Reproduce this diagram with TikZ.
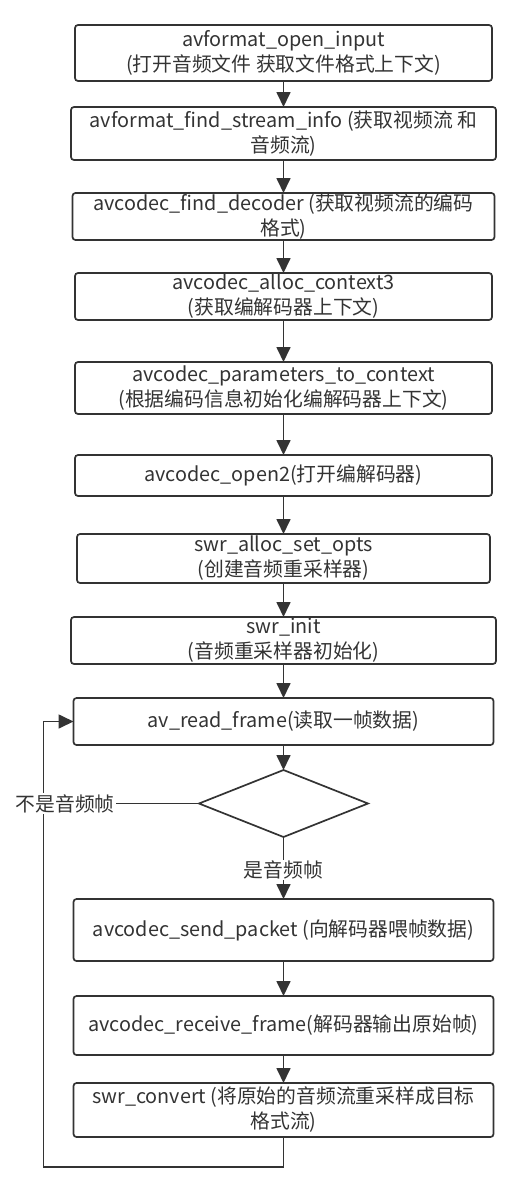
\documentclass[tikz,border=0pt]{standalone}
\usepackage{fontspec}
\setmainfont{Noto Sans CJK SC}
\usepackage{tikz}
\usetikzlibrary{shapes.geometric,positioning,arrows.meta,calc}
\definecolor{linegray}{HTML}{333333}

\begin{document}
\begin{tikzpicture}[
    font=\fontsize{19.8pt}{25pt}\selectfont,
    color=linegray,
    line width=1.7pt,
    funcbox/.style={draw, rounded corners=3pt, inner sep=0pt, outer sep=0pt, align=center},
    flow/.style={-{Triangle[length=15pt,width=14pt]}},
    edgelabel/.style={fill=white, inner sep=1pt}
]
\useasboundingbox (0,0) rectangle (520pt,-1191pt);

\node[funcbox,
    minimum width=417pt,
    minimum height=56pt
] (openinput) at (283.5pt,-53pt) {avformat\_open\_input\\(打开音频文件 获取文件格式上下文)};

\node[funcbox,
    below=26pt of openinput,
    minimum width=425pt,
    minimum height=53pt
] (findinfo) {avformat\_find\_stream\_info (获取视频流 和\\音频流)};

\node[funcbox,
    below=33pt of findinfo,
    minimum width=422pt,
    minimum height=47pt
] (finddecoder) {avcodec\_find\_decoder (获取视频流的编码\\格式)};

\node[funcbox,
    below=33pt of finddecoder,
    minimum width=417pt,
    minimum height=47pt
] (alloccontext) {avcodec\_alloc\_context3\\(获取编解码器上下文)};

\node[funcbox,
    below=42pt of alloccontext,
    minimum width=417pt,
    minimum height=52pt
] (paramstoctx) {avcodec\_parameters\_to\_context\\(根据编码信息初始化编解码器上下文)};

\node[funcbox,
    below=41pt of paramstoctx,
    minimum width=417pt,
    minimum height=41pt
] (opencodec) {avcodec\_open2(打开编解码器)};

\node[funcbox,
    below=38pt of opencodec,
    minimum width=413pt,
    minimum height=49pt
] (swralloc) {swr\_alloc\_set\_opts\\(创建音频重采样器)};

\node[funcbox,
    below=34pt of swralloc,
    minimum width=425pt,
    minimum height=47pt
] (swrinit) {swr\_init\\(音频重采样器初始化)};

\node[funcbox,
    below=34pt of swrinit,
    minimum width=420pt,
    minimum height=47pt
] (readframe) {av\_read\_frame(读取一帧数据)};

\node[draw,
    diamond,
    below=25pt of readframe,
    inner sep=0pt,
    outer sep=0pt,
    minimum width=169pt,
    minimum height=67pt
] (isaudio) {};

\node[funcbox,
    below=62pt of isaudio,
    minimum width=420pt,
    minimum height=62pt
] (sendpacket) {avcodec\_send\_packet (向解码器喂帧数据)};

\node[funcbox,
    below=35pt of sendpacket,
    minimum width=420pt,
    minimum height=59pt
] (recvframe) {avcodec\_receive\_frame(解码器输出原始帧)};

\node[funcbox,
    below=28pt of recvframe,
    minimum width=420pt,
    minimum height=54pt
] (swrconvert) {swr\_convert (将原始的音频流重采样成目标\\格式流)};

\coordinate (loopcorner) at ($(swrconvert.south)+(-240pt,-30pt)$);

\draw[flow] (openinput) -- (findinfo);
\draw[flow] (findinfo) -- (finddecoder);
\draw[flow] (finddecoder) -- (alloccontext);
\draw[flow] (alloccontext) -- (paramstoctx);
\draw[flow] (paramstoctx) -- (opencodec);
\draw[flow] (opencodec) -- (swralloc);
\draw[flow] (swralloc) -- (swrinit);
\draw[flow] (swrinit) -- (readframe);
\draw[flow] (readframe) -- (isaudio);

\draw[flow] (isaudio) -- (sendpacket) node [pos=0.53,edgelabel] {是音频帧};

\draw[flow] (sendpacket) -- (recvframe);
\draw[flow] (recvframe) -- (swrconvert);

\draw[flow] (swrconvert.south) |- (loopcorner) |- (readframe.west);
\draw (isaudio.west) -- (isaudio.west -| loopcorner) node [pos=0.86,edgelabel] {不是音频帧};

\end{tikzpicture}
\end{document}
